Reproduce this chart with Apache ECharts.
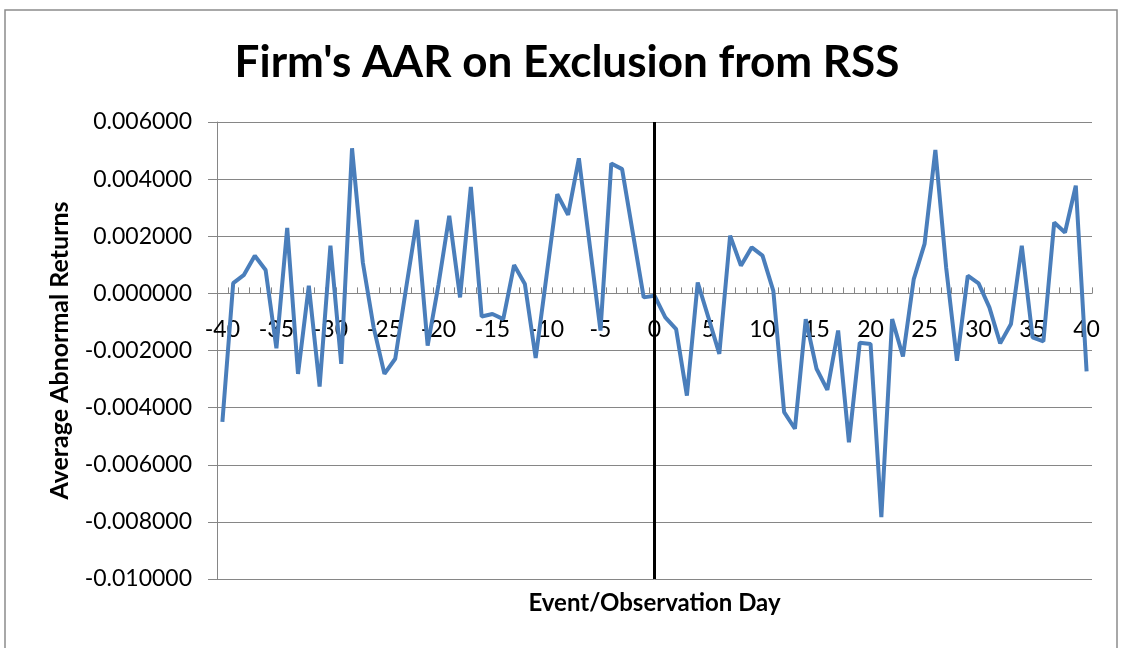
<!DOCTYPE html>
<html>
<head>
<meta charset="utf-8">
<script src="https://cdn.jsdelivr.net/npm/echarts@6/dist/echarts.min.js"></script>
<style>
  html, body { margin: 0; padding: 0; background: #fff; }
  #chart { width: 1122px; height: 648px; }
</style>
</head>
<body>
<div id="chart"></div>
<script>
// event window days
const days = [
  '-40', '-39', '-38', '-37', '-36', '-35', '-34', '-33', '-32', '-31',
  '-30', '-29', '-28', '-27', '-26', '-25', '-24', '-23', '-22', '-21',
  '-20', '-19', '-18', '-17', '-16', '-15', '-14', '-13', '-12', '-11',
  '-10', '-9', '-8', '-7', '-6', '-5', '-4', '-3', '-2', '-1',
  '0', '1', '2', '3', '4', '5', '6', '7', '8', '9',
  '10', '11', '12', '13', '14', '15', '16', '17', '18', '19',
  '20', '21', '22', '23', '24', '25', '26', '27', '28', '29',
  '30', '31', '32', '33', '34', '35', '36', '37', '38', '39', '40'
];

// average abnormal returns
const aar = [
  -0.00450, 0.00036, 0.00065, 0.00132, 0.00082, -0.00192, 0.00229, -0.00282, 0.00027, -0.00326,
  0.00167, -0.00247, 0.00508, 0.00108, -0.00119, -0.00282, -0.00229, 0.00017, 0.00257, -0.00183,
  0.00030, 0.00272, -0.00014, 0.00373, -0.00081, -0.00072, -0.00090, 0.00099, 0.00033, -0.00226,
  0.00060, 0.00347, 0.00275, 0.00473, 0.00170, -0.00130, 0.00455, 0.00435, 0.00210, -0.00014,
  -0.00008, -0.00084, -0.00125, -0.00358, 0.00038, -0.00086, -0.00212, 0.00202, 0.00097, 0.00161,
  0.00132, 0.00009, -0.00416, -0.00474, -0.00090, -0.00264, -0.00338, -0.00130, -0.00521, -0.00173,
  -0.00177, -0.00783, -0.00090, -0.00221, 0.00050, 0.00173, 0.00502, 0.00090, -0.00236, 0.00062,
  0.00035, -0.00049, -0.00175, -0.00107, 0.00167, -0.00154, -0.00168, 0.00248, 0.00213, 0.00377, -0.00273
];

const eventDay = '0';

// y range and the pixel box of the plot
const yMin = -0.01;
const yMax = 0.006;
const gridTop = 122;
const gridBottom = 69;
const plotHeight = 648 - gridTop - gridBottom;
// lift the category axis from the bottom edge up to the zero line
const zeroOffset = -plotHeight * (0 - yMin) / (yMax - yMin);

const chart = echarts.init(document.getElementById('chart'));

chart.setOption({
  animation: false,
  backgroundColor: '#fff',
  title: {
    text: "Firm's AAR on Exclusion from RSS",
    left: 562,
    top: 36,
    textAlign: 'center',
    textStyle: {
      fontFamily: 'Lato',
      fontWeight: 'bold',
      fontSize: 44,
      color: '#000',
    },
  },
  graphic: [{
    type: 'rect',
    shape: { x: 5, y: 10, width: 1112, height: 700 },
    style: { fill: 'none', stroke: '#8c8c8c', lineWidth: 1.5 },
    silent: true,
  }],
  grid: {
    left: 217,
    right: 30,
    top: gridTop,
    bottom: gridBottom,
    containLabel: false,
    outerBoundsMode: 'none',
  },
  xAxis: {
    type: 'category',
    data: days,
    boundaryGap: true,
    position: 'bottom',
    offset: zeroOffset,
    name: 'Event/Observation Day',
    nameLocation: 'middle',
    nameGap: 298,
    nameTextStyle: {
      fontFamily: 'Lato',
      fontWeight: 'bold',
      fontSize: 24,
      color: '#000',
    },
    axisLine: {
      onZero: false,
      lineStyle: { color: '#868686', width: 1 },
    },
    axisTick: {
      show: true,
      inside: true,
      interval: 0,
      length: 6,
      lineStyle: { color: '#868686' },
    },
    axisLabel: {
      interval: 4,
      margin: 25,
      fontFamily: 'Lato',
      fontSize: 23,
      color: '#000',
    },
    splitLine: { show: false },
  },
  yAxis: {
    type: 'value',
    min: yMin,
    max: yMax,
    interval: 0.002,
    name: 'Average Abnormal Returns',
    nameLocation: 'middle',
    nameGap: 145,
    nameTextStyle: {
      fontFamily: 'Lato',
      fontWeight: 'bold',
      fontSize: 25,
      color: '#000',
    },
    axisLine: {
      show: true,
      lineStyle: { color: '#868686', width: 1 },
    },
    axisTick: {
      show: true,
      length: 9,
      lineStyle: { color: '#868686' },
    },
    axisLabel: {
      margin: 25,
      fontFamily: 'Lato',
      fontSize: 23,
      color: '#000',
      formatter: (v) => v.toFixed(6),
    },
    splitLine: {
      show: true,
      lineStyle: { color: '#868686', width: 1 },
    },
  },
  series: [{
    type: 'line',
    data: aar,
    showSymbol: false,
    symbol: 'none',
    lineStyle: { color: '#4a7ebb', width: 4 },
    itemStyle: { color: '#4a7ebb' },
    markLine: {
      silent: true,
      symbol: 'none',
      label: { show: false },
      lineStyle: { color: '#000', width: 3, type: 'solid' },
      data: [{ xAxis: days.indexOf(eventDay) }],
    },
  }],
});
</script>
</body>
</html>
